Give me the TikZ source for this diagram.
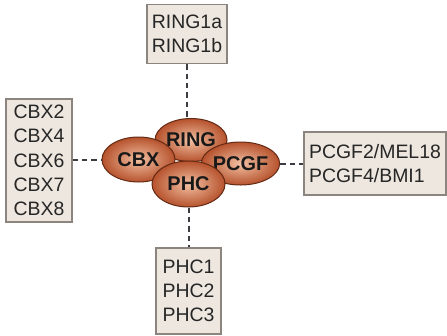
\documentclass[tikz,border=0pt]{standalone}
\usepackage{fontspec}
\setmainfont{Liberation Sans}
\usetikzlibrary{shapes.geometric}

\definecolor{boxfill}{RGB}{237,231,223}
\definecolor{boxline}{RGB}{140,132,126}
\definecolor{coreline}{RGB}{100,42,20}
\definecolor{corein}{RGB}{242,192,162}
\definecolor{coreout}{RGB}{182,82,45}
\definecolor{linkgray}{RGB}{60,60,66}

\tikzset{
  protbox/.style={draw=boxline,fill=boxfill,line width=1.1pt,inner sep=0pt,
    align=left,font=\fontsize{19.5}{24.3}\selectfont,text=black!85},
  core/.style={ellipse,draw=coreline,line width=1pt,inner sep=0pt,
    inner color=corein,outer color=coreout,
    font=\fontsize{20}{22}\selectfont\bfseries,text=black!90},
  link/.style={draw=linkgray,line width=2pt,dash pattern=on 5.5pt off 4pt}
}

\begin{document}
\begin{tikzpicture}[x=1bp,y=-1bp]
\useasboundingbox (0,0) rectangle (447,335);
% boxes
\node[protbox,minimum width=80bp,minimum height=59bp] (ringbox) at (187,34) {RING1a\\RING1b};
\node[protbox,minimum width=66bp,minimum height=123bp] (cbxbox) at (39,160.5) {CBX2\\CBX4\\CBX6\\CBX7\\CBX8};
\node[protbox,minimum width=142bp,minimum height=63bp] (pcgfbox) at (375,163.5) {PCGF2/MEL18\\PCGF4/BMI1};
\node[protbox,minimum width=65bp,minimum height=86bp] (phcbox) at (188.5,291) {PHC1\\PHC2\\PHC3};
% core ellipses
\node[core,minimum width=72bp,minimum height=43bp] (ring) at (191,140) {RING};
\node[core,minimum width=73bp,minimum height=45bp] (cbx) at (138.5,159.5) {CBX};
\node[core,minimum width=73bp,minimum height=43bp] (pcgf) at (240.5,163.5) {PCGF};
\node[core,minimum width=73bp,minimum height=46bp] (phc) at (188.5,184) {PHC};
% dashed links
\draw[link] (ringbox.south) -- (ringbox.south |- ring.north);
\draw[link] (cbxbox.east |- cbx.west) -- (cbx.west);
\draw[link] (pcgf.east) -- (pcgfbox.west |- pcgf.east);
\draw[link] (phc.south) -- (phcbox.north);
\end{tikzpicture}
\end{document}
